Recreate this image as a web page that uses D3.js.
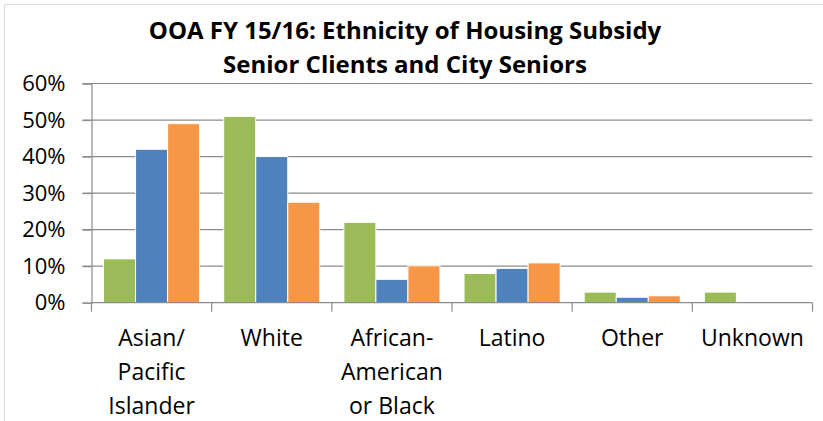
<!DOCTYPE html>
<html><head><meta charset="utf-8">
<script src="https://cdn.jsdelivr.net/npm/d3@7"></script>
<style>body{margin:0;background:#fff}svg{display:block}</style>
</head><body><svg id="c" width="823" height="421"></svg>
<script>
const titleLines = ["OOA FY 15/16: Ethnicity of Housing Subsidy", "Senior Clients and City Seniors"];
const categories = ["Asian/ Pacific Islander", "White", "African-American or Black", "Latino", "Other", "Unknown"];
const categoryLines = [["Asian/", "Pacific", "Islander"], ["White"], ["African-", "American", "or Black"], ["Latino"], ["Other"], ["Unknown"]];
const seriesNames = ["Series A", "Series B", "Series C"];
const seriesColors = ["#9BBB59", "#4F81BD", "#F79646"];
const seriesA = [0.12, 0.51, 0.22, 0.08, 0.029, 0.029];
const seriesB = [0.42, 0.40, 0.064, 0.094, 0.015, 0];
const seriesC = [0.49, 0.275, 0.101, 0.109, 0.019, 0];
const yTicks = [0, 0.1, 0.2, 0.3, 0.4, 0.5, 0.6];

const seriesValues = [seriesA, seriesB, seriesC];
const svg = d3.select("#c");
const font = "'Open Sans', Lato, sans-serif";
const L = 91.5, R = 812.5, T = 83.5, B = 302.7;

// chart frame
svg.append("path").attr("d", "M4.5,421 V4.5 H823").attr("fill", "none").attr("stroke", "#d9d9d9").attr("stroke-width", 1);

const x = d3.scaleBand().domain(categories).range([L, R]).padding(0);
const x1 = d3.scaleBand().domain(seriesNames).range([0, x.bandwidth()]).paddingInner(0).paddingOuter(0.375);
const y = d3.scaleLinear().domain([0, 0.6]).range([B, T]);

// gridlines
svg.append("g").selectAll("line").data(yTicks.slice(1)).join("line")
  .attr("x1", L - 9).attr("x2", R).attr("y1", d => y(d)).attr("y2", d => y(d))
  .attr("stroke", "#8c8c8c").attr("stroke-width", 1.2);

// y axis
const yAxis = svg.append("g").attr("transform", `translate(${L},0)`)
  .call(d3.axisLeft(y).tickValues(yTicks).tickFormat(d3.format(".0%")).tickSize(9).tickPadding(17));
yAxis.select(".domain").attr("stroke", "#8c8c8c").attr("stroke-width", 1.2);
yAxis.selectAll(".tick line").attr("stroke", "#8c8c8c").attr("stroke-width", 1.2);
yAxis.selectAll("text").attr("font-family", font).attr("font-size", 22).attr("fill", "#000");

// bars
const rows = categories.map((c, i) => ({c, vals: seriesNames.map((s, j) => ({s, v: seriesValues[j][i], col: seriesColors[j]}))}));
svg.append("g").selectAll("g").data(rows).join("g")
  .attr("transform", d => `translate(${x(d.c)},0)`)
  .selectAll("rect").data(d => d.vals.filter(v => v.v > 0)).join("rect")
  .attr("x", d => x1(d.s)).attr("width", x1.bandwidth())
  .attr("y", d => y(d.v)).attr("height", d => y(0) - y(d.v))
  .attr("fill", d => d.col).attr("stroke", "#fff").attr("stroke-width", 1);

// x axis
svg.append("line").attr("x1", L).attr("x2", R).attr("y1", B).attr("y2", B).attr("stroke", "#8c8c8c").attr("stroke-width", 1.2);
const bounds = categories.map(c => x(c)).concat([R]);
svg.append("g").selectAll("line").data(bounds).join("line")
  .attr("x1", d => d).attr("x2", d => d).attr("y1", B).attr("y2", B + 9)
  .attr("stroke", "#8c8c8c").attr("stroke-width", 1.2);

// category labels
svg.append("g").selectAll("text").data(categories).join("text")
  .attr("x", d => x(d) + x.bandwidth() / 2).attr("y", 346)
  .attr("text-anchor", "middle").attr("font-family", font).attr("font-size", 23).attr("fill", "#000")
  .selectAll("tspan").data((d, i) => categoryLines[i]).join("tspan")
  .attr("x", function() { return d3.select(this.parentNode).attr("x"); })
  .attr("dy", (d, i) => i === 0 ? 0 : 34).text(d => d);

// title
svg.append("g").selectAll("text").data(titleLines).join("text")
  .attr("x", 405).attr("y", (d, i) => 39 + i * 34)
  .attr("text-anchor", "middle").attr("font-family", font).attr("font-weight", "bold")
  .attr("font-size", 24).attr("fill", "#000").text(d => d);
</script></body></html>
